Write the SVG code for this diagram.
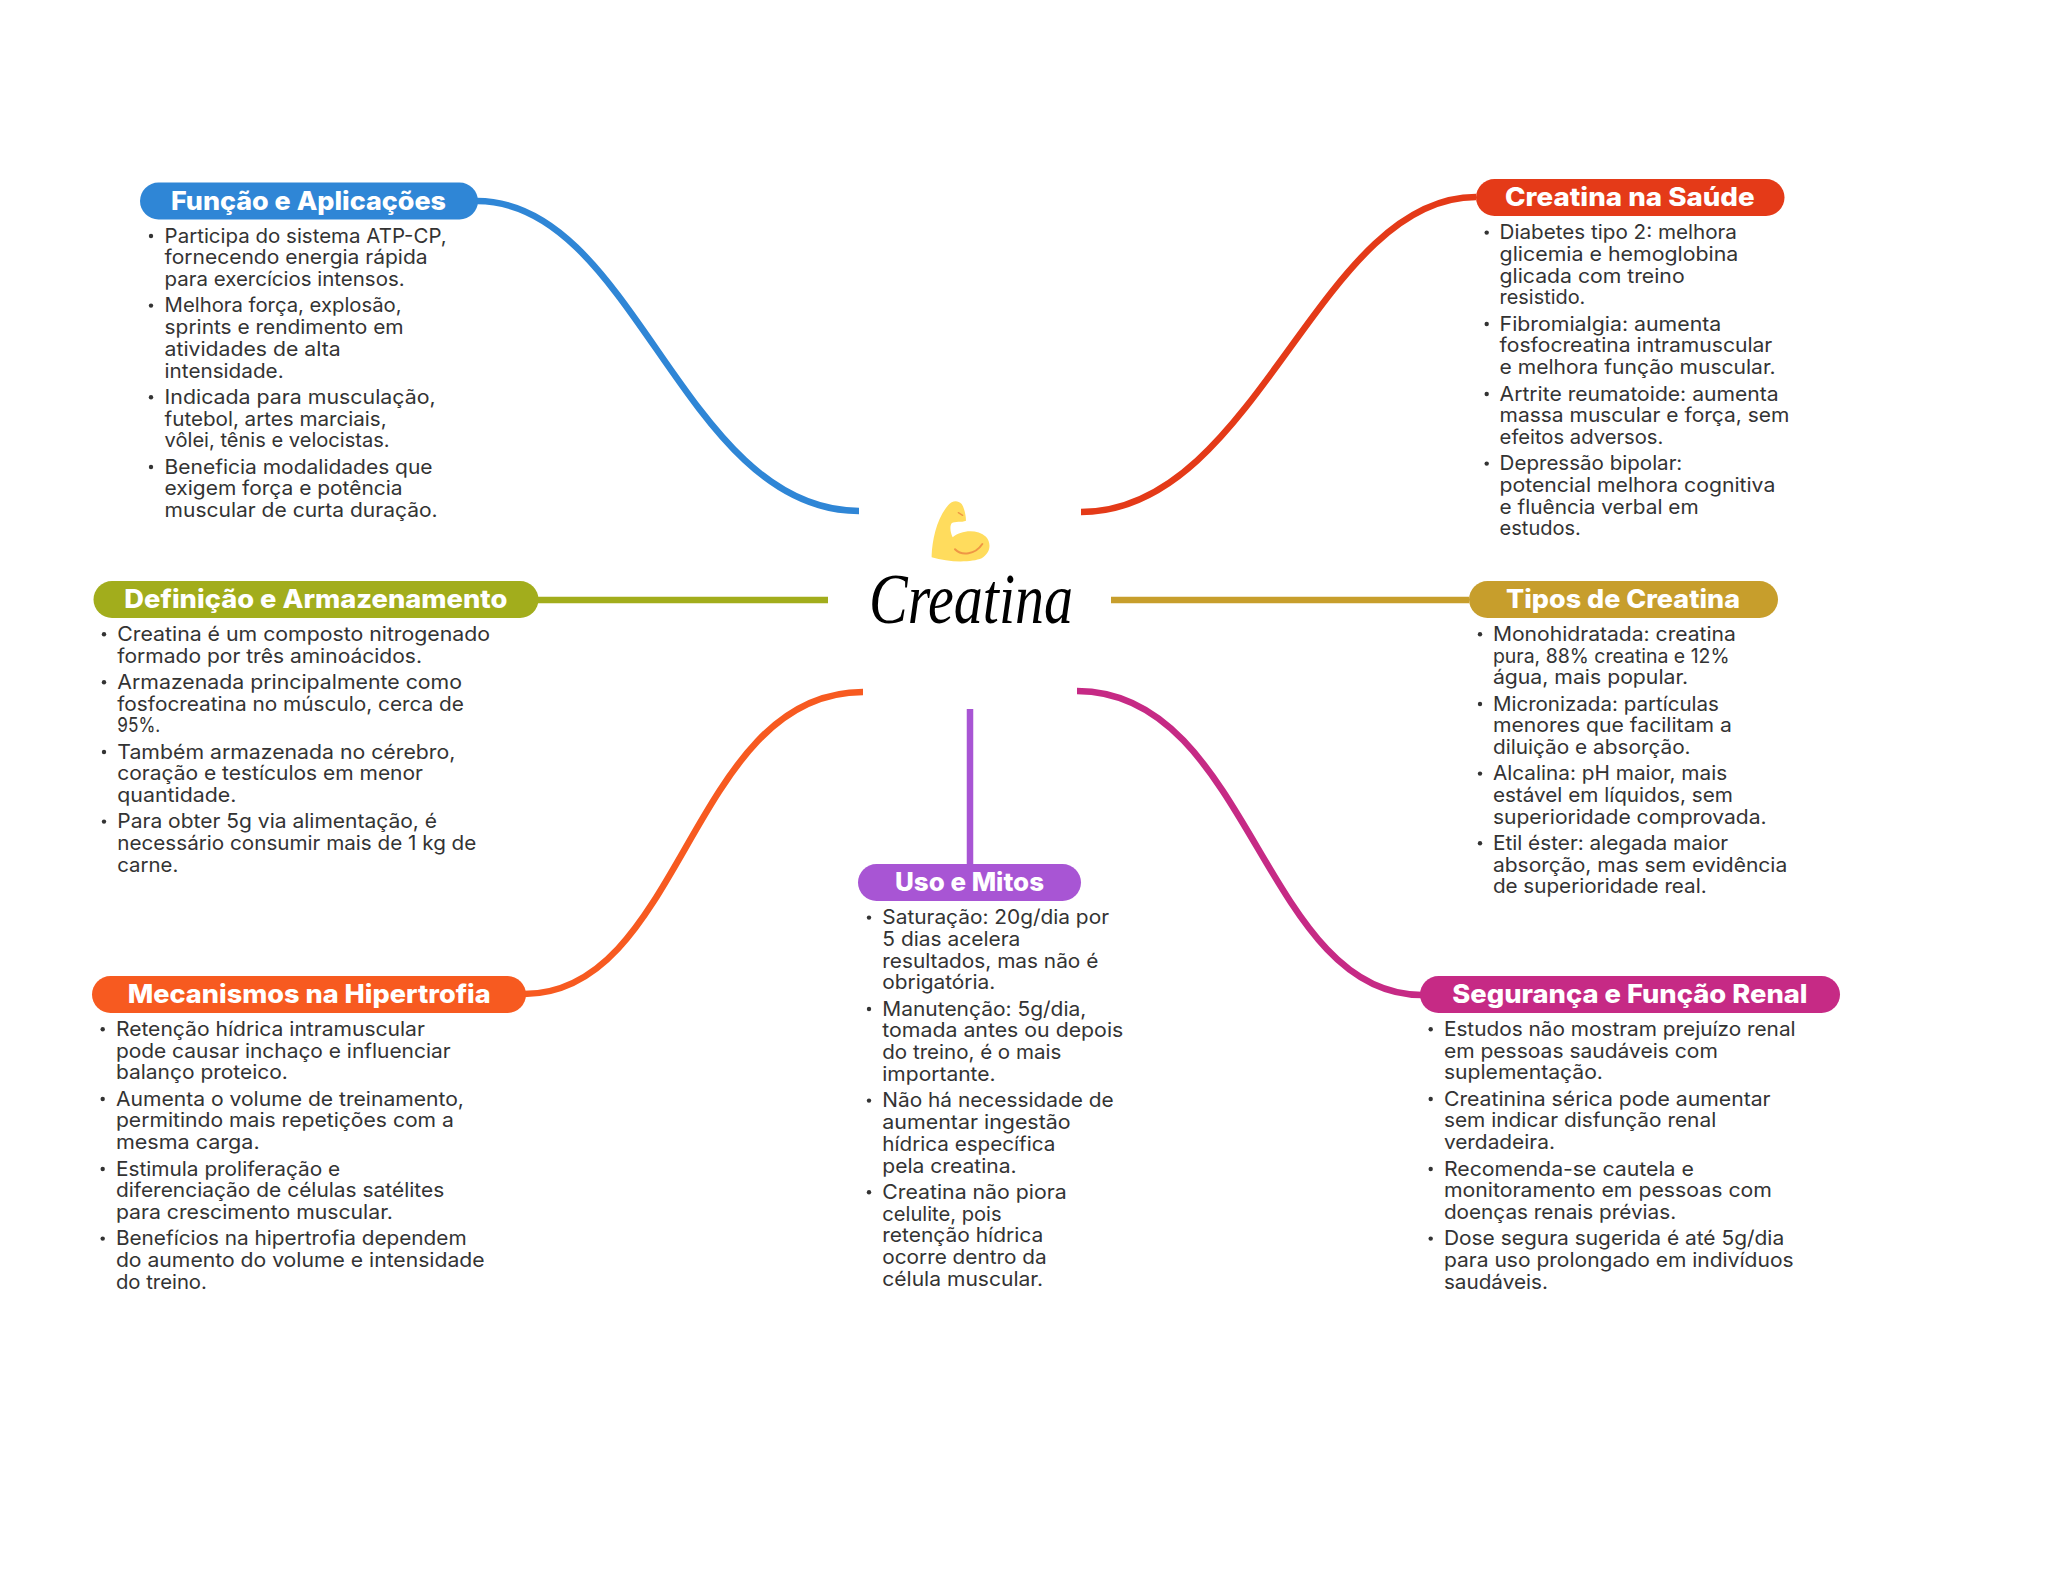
<svg xmlns="http://www.w3.org/2000/svg" width="2048" height="1569" viewBox="0 0 2048 1569">
<style>
.b{font-family:"Inter","Liberation Sans",sans-serif;font-size:20px;font-weight:400;fill:#333;transform:translateX(-.4px)}
.t{font-family:"Inter","Liberation Sans",sans-serif;font-size:25.5px;font-weight:800;fill:#fff;transform:translateY(.6px)}
.c{fill:none;stroke-width:6.5}
.d{fill:#333}
</style>
<rect width="2048" height="1569" fill="#fff"/>
<g id="connectors">
<path class="c" stroke="#2F86D6" d="M477 201C635 201 683 511 859 511"/>
<path class="c" stroke="#E43A18" d="M1476 197C1318 197 1257 512 1081 512"/>
<path class="c" stroke="#A2AD1C" d="M538 600H828"/>
<path class="c" stroke="#C79E2C" d="M1111 600H1469"/>
<path class="c" stroke="#F75A20" d="M524 994C683 994 690 692 863 692"/>
<path class="c" stroke="#C62A85" d="M1077 691C1250 691 1263 995 1422 995"/>
<path class="c" stroke="#A855D4" d="M970 709V864"/>
</g>
<g id="center">
<g transform="translate(820 480) scale(.3333)">
<path fill="#FFDC5D" d="M335 225C337 180 350 115 385 75C395 63 412 58 425 72C432 82 438 105 438 122C425 128 405 122 395 130C388 140 392 160 398 172C420 152 470 145 498 170C515 190 512 218 485 235C455 248 385 248 335 232Z"/>
<path fill="none" stroke="#EF9645" stroke-width="6" stroke-linecap="round" d="M405 208C425 228 465 225 487 192"/>
<path fill="none" stroke="#EF9645" stroke-width="4" stroke-linecap="round" d="M415 98L428 106"/>
</g>
<text x="869" y="623" font-family="'Liberation Serif',serif" font-style="italic" font-size="72" fill="#000" textLength="204" lengthAdjust="spacingAndGlyphs">Creatina</text>
</g>
<g id="funcao">
<rect x="140" y="182.5" width="338" height="37" rx="18.5" fill="#2F86D6"/>
<text class="t" x="171" y="209.3" textLength="275" lengthAdjust="spacingAndGlyphs">Função e Aplicações</text>
<circle class="d" cx="151" cy="236" r="2.2"/><circle class="d" cx="151" cy="305.6" r="2.2"/><circle class="d" cx="151" cy="397.3" r="2.2"/><circle class="d" cx="151" cy="467" r="2.2"/>
<text class="b" x="165" y="242.7" textLength="282" lengthAdjust="spacingAndGlyphs">Participa do sistema ATP-CP,</text>
<text class="b" x="165" y="264.3" textLength="263" lengthAdjust="spacingAndGlyphs">fornecendo energia rápida</text>
<text class="b" x="165" y="286" textLength="240" lengthAdjust="spacingAndGlyphs">para exercícios intensos.</text>
<text class="b" x="165" y="312.3" textLength="237" lengthAdjust="spacingAndGlyphs">Melhora força, explosão,</text>
<text class="b" x="165" y="334" textLength="239" lengthAdjust="spacingAndGlyphs">sprints e rendimento em</text>
<text class="b" x="165" y="356" textLength="176" lengthAdjust="spacingAndGlyphs">atividades de alta</text>
<text class="b" x="165" y="377.7" textLength="119" lengthAdjust="spacingAndGlyphs">intensidade.</text>
<text class="b" x="165" y="404" textLength="271" lengthAdjust="spacingAndGlyphs">Indicada para musculação,</text>
<text class="b" x="165" y="425.7" textLength="222" lengthAdjust="spacingAndGlyphs">futebol, artes marciais,</text>
<text class="b" x="165" y="447.3" textLength="225" lengthAdjust="spacingAndGlyphs">vôlei, tênis e velocistas.</text>
<text class="b" x="165" y="473.7" textLength="268" lengthAdjust="spacingAndGlyphs">Beneficia modalidades que</text>
<text class="b" x="165" y="495.3" textLength="238" lengthAdjust="spacingAndGlyphs">exigem força e potência</text>
<text class="b" x="165" y="517.3" textLength="273" lengthAdjust="spacingAndGlyphs">muscular de curta duração.</text>
</g>
<g id="definicao">
<rect x="93.5" y="581" width="445" height="37" rx="18.5" fill="#A2AD1C"/>
<text class="t" x="124.3" y="607.3" textLength="383" lengthAdjust="spacingAndGlyphs">Definição e Armazenamento</text>
<circle class="d" cx="104" cy="634.3" r="2.2"/><circle class="d" cx="104" cy="682.3" r="2.2"/><circle class="d" cx="104" cy="752" r="2.2"/><circle class="d" cx="104" cy="821.6" r="2.2"/>
<text class="b" x="117.7" y="641" textLength="372.7" lengthAdjust="spacingAndGlyphs">Creatina é um composto nitrogenado</text>
<text class="b" x="117.7" y="662.7" textLength="304.7" lengthAdjust="spacingAndGlyphs">formado por três aminoácidos.</text>
<text class="b" x="117.7" y="689" textLength="344.7" lengthAdjust="spacingAndGlyphs">Armazenada principalmente como</text>
<text class="b" x="117.7" y="710.7" textLength="346.7" lengthAdjust="spacingAndGlyphs">fosfocreatina no músculo, cerca de</text>
<text class="b" x="117.7" y="732.3" textLength="43" lengthAdjust="spacingAndGlyphs">95%.</text>
<text class="b" x="117.7" y="758.7" textLength="338" lengthAdjust="spacingAndGlyphs">Também armazenada no cérebro,</text>
<text class="b" x="117.7" y="780.3" textLength="305.7" lengthAdjust="spacingAndGlyphs">coração e testículos em menor</text>
<text class="b" x="117.7" y="802" textLength="119" lengthAdjust="spacingAndGlyphs">quantidade.</text>
<text class="b" x="117.7" y="828.3" textLength="319.7" lengthAdjust="spacingAndGlyphs">Para obter 5g via alimentação, é</text>
<text class="b" x="117.7" y="850" textLength="359" lengthAdjust="spacingAndGlyphs">necessário consumir mais de 1 kg de</text>
<text class="b" x="117.7" y="871.7" textLength="61" lengthAdjust="spacingAndGlyphs">carne.</text>
</g>
<g id="mecanismos">
<rect x="92" y="976" width="434" height="37" rx="18.5" fill="#F75A20"/>
<text class="t" x="127.7" y="1002.3" textLength="363" lengthAdjust="spacingAndGlyphs">Mecanismos na Hipertrofia</text>
<circle class="d" cx="102.7" cy="1029.3" r="2.2"/><circle class="d" cx="102.7" cy="1099" r="2.2"/><circle class="d" cx="102.7" cy="1169" r="2.2"/><circle class="d" cx="102.7" cy="1238.6" r="2.2"/>
<text class="b" x="116.3" y="1036" textLength="309" lengthAdjust="spacingAndGlyphs">Retenção hídrica intramuscular</text>
<text class="b" x="116.3" y="1057.7" textLength="334.7" lengthAdjust="spacingAndGlyphs">pode causar inchaço e influenciar</text>
<text class="b" x="116.3" y="1079.3" textLength="172" lengthAdjust="spacingAndGlyphs">balanço proteico.</text>
<text class="b" x="116.3" y="1105.7" textLength="348" lengthAdjust="spacingAndGlyphs">Aumenta o volume de treinamento,</text>
<text class="b" x="116.3" y="1127.3" textLength="338" lengthAdjust="spacingAndGlyphs">permitindo mais repetições com a</text>
<text class="b" x="116.3" y="1149.3" textLength="143.7" lengthAdjust="spacingAndGlyphs">mesma carga.</text>
<text class="b" x="116.3" y="1175.7" textLength="224.3" lengthAdjust="spacingAndGlyphs">Estimula proliferação e</text>
<text class="b" x="116.3" y="1197.3" textLength="328.3" lengthAdjust="spacingAndGlyphs">diferenciação de células satélites</text>
<text class="b" x="116.3" y="1219" textLength="277" lengthAdjust="spacingAndGlyphs">para crescimento muscular.</text>
<text class="b" x="116.3" y="1245.3" textLength="350.7" lengthAdjust="spacingAndGlyphs">Benefícios na hipertrofia dependem</text>
<text class="b" x="116.3" y="1267" textLength="368.7" lengthAdjust="spacingAndGlyphs">do aumento do volume e intensidade</text>
<text class="b" x="116.3" y="1288.7" textLength="91" lengthAdjust="spacingAndGlyphs">do treino.</text>
</g>
<g id="uso">
<rect x="858" y="864" width="223" height="37" rx="18.5" fill="#A855D4"/>
<text class="t" x="895" y="890.7" textLength="149" lengthAdjust="spacingAndGlyphs">Uso e Mitos</text>
<circle class="d" cx="869" cy="917.6" r="2.2"/><circle class="d" cx="869" cy="1009" r="2.2"/><circle class="d" cx="869" cy="1100.6" r="2.2"/><circle class="d" cx="869" cy="1192.3" r="2.2"/>
<text class="b" x="882.7" y="924.3" textLength="226.7" lengthAdjust="spacingAndGlyphs">Saturação: 20g/dia por</text>
<text class="b" x="882.7" y="946" textLength="138" lengthAdjust="spacingAndGlyphs">5 dias acelera</text>
<text class="b" x="882.7" y="967.7" textLength="216" lengthAdjust="spacingAndGlyphs">resultados, mas não é</text>
<text class="b" x="882.7" y="989.3" textLength="113" lengthAdjust="spacingAndGlyphs">obrigatória.</text>
<text class="b" x="882.7" y="1015.7" textLength="204" lengthAdjust="spacingAndGlyphs">Manutenção: 5g/dia,</text>
<text class="b" x="882.7" y="1037.3" textLength="241" lengthAdjust="spacingAndGlyphs">tomada antes ou depois</text>
<text class="b" x="882.7" y="1059.3" textLength="179" lengthAdjust="spacingAndGlyphs">do treino, é o mais</text>
<text class="b" x="882.7" y="1081" textLength="113.3" lengthAdjust="spacingAndGlyphs">importante.</text>
<text class="b" x="882.7" y="1107.3" textLength="231.3" lengthAdjust="spacingAndGlyphs">Não há necessidade de</text>
<text class="b" x="882.7" y="1129" textLength="188.3" lengthAdjust="spacingAndGlyphs">aumentar ingestão</text>
<text class="b" x="882.7" y="1150.7" textLength="173" lengthAdjust="spacingAndGlyphs">hídrica específica</text>
<text class="b" x="882.7" y="1172.7" textLength="134.3" lengthAdjust="spacingAndGlyphs">pela creatina.</text>
<text class="b" x="882.7" y="1199" textLength="184.3" lengthAdjust="spacingAndGlyphs">Creatina não piora</text>
<text class="b" x="882.7" y="1220.7" textLength="119.3" lengthAdjust="spacingAndGlyphs">celulite, pois</text>
<text class="b" x="882.7" y="1242.3" textLength="161" lengthAdjust="spacingAndGlyphs">retenção hídrica</text>
<text class="b" x="882.7" y="1264" textLength="164.3" lengthAdjust="spacingAndGlyphs">ocorre dentro da</text>
<text class="b" x="882.7" y="1285.7" textLength="160.7" lengthAdjust="spacingAndGlyphs">célula muscular.</text>
</g>
<g id="seguranca">
<rect x="1420" y="976" width="420" height="37" rx="18.5" fill="#C62A85"/>
<text class="t" x="1452.3" y="1002.3" textLength="355.3" lengthAdjust="spacingAndGlyphs">Segurança e Função Renal</text>
<circle class="d" cx="1430.7" cy="1029.3" r="2.2"/><circle class="d" cx="1430.7" cy="1099" r="2.2"/><circle class="d" cx="1430.7" cy="1169" r="2.2"/><circle class="d" cx="1430.7" cy="1238.6" r="2.2"/>
<text class="b" x="1444.3" y="1036" textLength="351.7" lengthAdjust="spacingAndGlyphs">Estudos não mostram prejuízo renal</text>
<text class="b" x="1444.3" y="1057.7" textLength="274" lengthAdjust="spacingAndGlyphs">em pessoas saudáveis com</text>
<text class="b" x="1444.3" y="1079.3" textLength="159" lengthAdjust="spacingAndGlyphs">suplementação.</text>
<text class="b" x="1444.3" y="1105.7" textLength="326.7" lengthAdjust="spacingAndGlyphs">Creatinina sérica pode aumentar</text>
<text class="b" x="1444.3" y="1127.3" textLength="272.3" lengthAdjust="spacingAndGlyphs">sem indicar disfunção renal</text>
<text class="b" x="1444.3" y="1149.3" textLength="111" lengthAdjust="spacingAndGlyphs">verdadeira.</text>
<text class="b" x="1444.3" y="1175.7" textLength="250" lengthAdjust="spacingAndGlyphs">Recomenda-se cautela e</text>
<text class="b" x="1444.3" y="1197.3" textLength="328" lengthAdjust="spacingAndGlyphs">monitoramento em pessoas com</text>
<text class="b" x="1444.3" y="1219" textLength="232.3" lengthAdjust="spacingAndGlyphs">doenças renais prévias.</text>
<text class="b" x="1444.3" y="1245.3" textLength="340.3" lengthAdjust="spacingAndGlyphs">Dose segura sugerida é até 5g/dia</text>
<text class="b" x="1444.3" y="1267" textLength="349.7" lengthAdjust="spacingAndGlyphs">para uso prolongado em indivíduos</text>
<text class="b" x="1444.3" y="1288.7" textLength="104" lengthAdjust="spacingAndGlyphs">saudáveis.</text>
</g>
<g id="tipos">
<rect x="1469" y="581" width="309" height="37" rx="18.5" fill="#C79E2C"/>
<text class="t" x="1506" y="607.3" textLength="234" lengthAdjust="spacingAndGlyphs">Tipos de Creatina</text>
<circle class="d" cx="1480" cy="634.3" r="2.2"/><circle class="d" cx="1480" cy="704" r="2.2"/><circle class="d" cx="1480" cy="773.6" r="2.2"/><circle class="d" cx="1480" cy="843.3" r="2.2"/>
<text class="b" x="1493.3" y="641" textLength="243" lengthAdjust="spacingAndGlyphs">Monohidratada: creatina</text>
<text class="b" x="1493.3" y="662.7" textLength="236.7" lengthAdjust="spacingAndGlyphs">pura, 88% creatina e 12%</text>
<text class="b" x="1493.3" y="684.3" textLength="195.3" lengthAdjust="spacingAndGlyphs">água, mais popular.</text>
<text class="b" x="1493.3" y="710.7" textLength="226" lengthAdjust="spacingAndGlyphs">Micronizada: partículas</text>
<text class="b" x="1493.3" y="732.3" textLength="239" lengthAdjust="spacingAndGlyphs">menores que facilitam a</text>
<text class="b" x="1493.3" y="754" textLength="197.7" lengthAdjust="spacingAndGlyphs">diluição e absorção.</text>
<text class="b" x="1493.3" y="780.3" textLength="234.3" lengthAdjust="spacingAndGlyphs">Alcalina: pH maior, mais</text>
<text class="b" x="1493.3" y="802" textLength="240" lengthAdjust="spacingAndGlyphs">estável em líquidos, sem</text>
<text class="b" x="1493.3" y="823.7" textLength="273.7" lengthAdjust="spacingAndGlyphs">superioridade comprovada.</text>
<text class="b" x="1493.3" y="850" textLength="235.3" lengthAdjust="spacingAndGlyphs">Etil éster: alegada maior</text>
<text class="b" x="1493.3" y="871.7" textLength="294.3" lengthAdjust="spacingAndGlyphs">absorção, mas sem evidência</text>
<text class="b" x="1493.3" y="893.3" textLength="213.7" lengthAdjust="spacingAndGlyphs">de superioridade real.</text>
</g>
<g id="saude">
<rect x="1476" y="179" width="308.5" height="37" rx="18.5" fill="#E43A18"/>
<text class="t" x="1505" y="205.7" textLength="249.7" lengthAdjust="spacingAndGlyphs">Creatina na Saúde</text>
<circle class="d" cx="1486.7" cy="232.6" r="2.2"/><circle class="d" cx="1486.7" cy="324" r="2.2"/><circle class="d" cx="1486.7" cy="394" r="2.2"/><circle class="d" cx="1486.7" cy="463.6" r="2.2"/>
<text class="b" x="1500" y="239.3" textLength="237.3" lengthAdjust="spacingAndGlyphs">Diabetes tipo 2: melhora</text>
<text class="b" x="1500" y="261" textLength="238.7" lengthAdjust="spacingAndGlyphs">glicemia e hemoglobina</text>
<text class="b" x="1500" y="282.7" textLength="185" lengthAdjust="spacingAndGlyphs">glicada com treino</text>
<text class="b" x="1500" y="304.3" textLength="85.7" lengthAdjust="spacingAndGlyphs">resistido.</text>
<text class="b" x="1500" y="330.7" textLength="221.7" lengthAdjust="spacingAndGlyphs">Fibromialgia: aumenta</text>
<text class="b" x="1500" y="352.3" textLength="272.7" lengthAdjust="spacingAndGlyphs">fosfocreatina intramuscular</text>
<text class="b" x="1500" y="374.3" textLength="276" lengthAdjust="spacingAndGlyphs">e melhora função muscular.</text>
<text class="b" x="1500" y="400.7" textLength="279" lengthAdjust="spacingAndGlyphs">Artrite reumatoide: aumenta</text>
<text class="b" x="1500" y="422.3" textLength="289.7" lengthAdjust="spacingAndGlyphs">massa muscular e força, sem</text>
<text class="b" x="1500" y="444" textLength="163.7" lengthAdjust="spacingAndGlyphs">efeitos adversos.</text>
<text class="b" x="1500" y="470.3" textLength="182.7" lengthAdjust="spacingAndGlyphs">Depressão bipolar:</text>
<text class="b" x="1500" y="492" textLength="275.7" lengthAdjust="spacingAndGlyphs">potencial melhora cognitiva</text>
<text class="b" x="1500" y="513.7" textLength="199" lengthAdjust="spacingAndGlyphs">e fluência verbal em</text>
<text class="b" x="1500" y="535.3" textLength="81.3" lengthAdjust="spacingAndGlyphs">estudos.</text>
</g>
</svg>
